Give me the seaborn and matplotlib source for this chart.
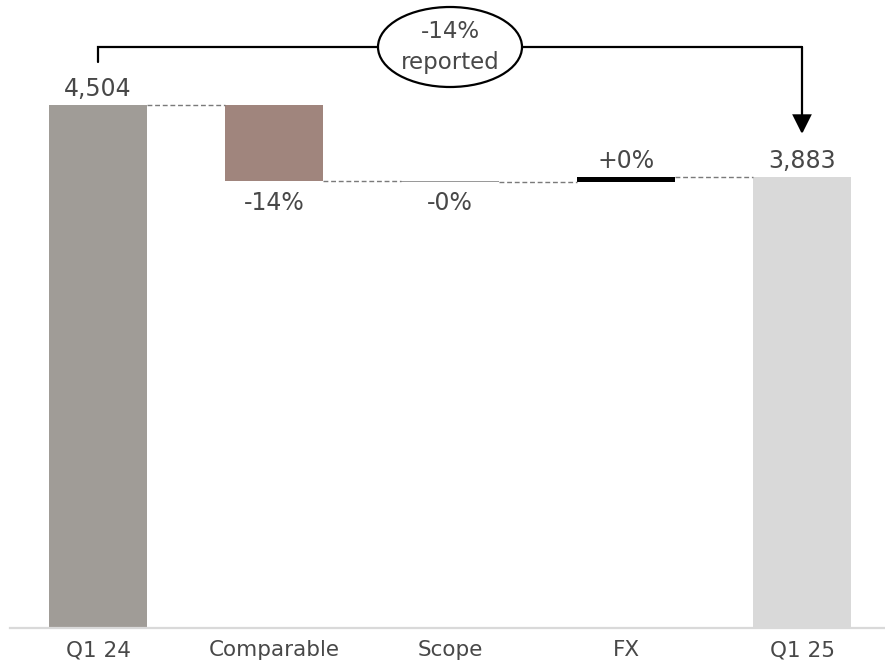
import matplotlib
matplotlib.use("Agg")
import matplotlib.pyplot as plt
import seaborn as sns
import numpy as np
from matplotlib.patches import Ellipse

# ---- data ----
categories = ["Q1 24", "Comparable", "Scope", "FX", "Q1 25"]
start_value = 4504
end_value = 3883
deltas = [-658, -3, 40]          # Comparable, Scope, FX
value_labels = ["4,504", "-14%", "-0%", "+0%", "3,883"]
bar_colors = ["#A09C97", "#A0857D", "#9A9A9A", "#000000", "#D9D9D9"]
bracket_text = "-14%\nreported"

# ---- waterfall geometry from data ----
levels = [start_value]
for d in deltas:
    levels.append(levels[-1] + d)
bottoms, heights = [0], [start_value]
for i, d in enumerate(deltas):
    bottoms.append(min(levels[i], levels[i + 1]))
    heights.append(abs(d))
bottoms.append(0)
heights.append(end_value)

sns.set_theme(style="white")
plt.rcParams["font.family"] = ["DejaVu Sans"]
TXT = "#484848"

fig = plt.figure(figsize=(8.85, 6.63), dpi=100)
ax = fig.add_axes([10 / 885, 35 / 663, 880 / 885, 628 / 663])

W = 0.56
sns.barplot(x=categories, y=heights, bottom=bottoms, order=categories,
            color=bar_colors[0], facecolor=bar_colors, width=W, linewidth=0,
            ax=ax, errorbar=None)

ax.set_xlim(-0.5, 4.5)
px = 628 / 5408.0
ax.set_ylim(0, 5408)

# connectors
for i in range(len(categories) - 1):
    y = levels[i]
    ax.plot([i + W / 2, i + 1 - W / 2], [y, y], ls=(0, (3.5, 2)), lw=1.0,
            color="#7A7A7A", zorder=1)

# value labels
for i, lab in enumerate(value_labels):
    top = bottoms[i] + heights[i]
    if i in (1, 2):
        ax.annotate(lab, (i, bottoms[i]), xytext=(0, -7), textcoords="offset points",
                    ha="center", va="top", fontsize=17, color=TXT)
    else:
        ax.annotate(lab, (i, top), xytext=(0, 3), textcoords="offset points",
                    ha="center", va="bottom", fontsize=17, color=TXT)

# bracket annotation
y_br = (628 - 47) / px
y_left = (628 - 62) / px
y_tip = (628 - 134) / px
ax.plot([0, 0, 4], [y_left, y_br, y_br], color="black", lw=1.6,
        solid_joinstyle="miter", clip_on=False, zorder=3)
ax.annotate("", xy=(4, y_tip), xytext=(4, y_br),
            arrowprops=dict(arrowstyle="-|>,head_length=0.4,head_width=0.2",
                            mutation_scale=29, lw=1.6, color="black",
                            shrinkA=0, shrinkB=0, joinstyle="miter"),
            zorder=3)
ell = Ellipse((2, y_br), width=144 / 176, height=80 / px, facecolor="white",
              edgecolor="black", lw=1.6, zorder=4, clip_on=False)
ax.add_patch(ell)
ax.text(2, y_br, bracket_text, ha="center", va="center", fontsize=16.5,
        color=TXT, linespacing=1.45, zorder=5)

# axes styling
for s in ["left", "top", "right"]:
    ax.spines[s].set_visible(False)
ax.spines["bottom"].set_color("#D9D9D9")
ax.spines["bottom"].set_linewidth(1.6)
ax.set_yticks([])
ax.tick_params(axis="x", length=0, pad=9, labelsize=15.5, labelcolor=TXT)
ax.set_xlabel("")
ax.set_ylabel("")

fig.savefig("out.png", dpi=100)
